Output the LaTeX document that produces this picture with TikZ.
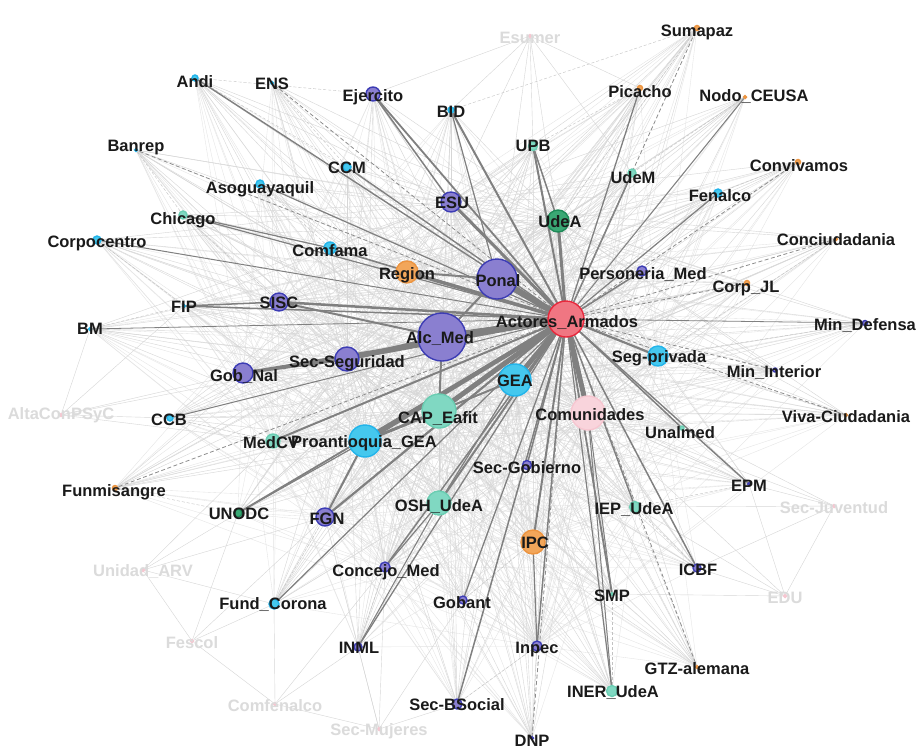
\documentclass[tikz,border=0pt]{standalone}
\usepackage{fontspec}
\setmainfont{Liberation Sans}
\definecolor{violeta}{HTML}{8A7FD0}
\definecolor{violetaborde}{HTML}{3C3CB4}
\definecolor{rojo}{HTML}{F07682}
\definecolor{rojoborde}{HTML}{E8283C}
\definecolor{celeste}{HTML}{45C8EE}
\definecolor{celesteborde}{HTML}{22B4EA}
\definecolor{menta}{HTML}{80D8C2}
\definecolor{mentaborde}{HTML}{6ACDB2}
\definecolor{verde}{HTML}{3AA874}
\definecolor{verdeborde}{HTML}{1E8A58}
\definecolor{naranja}{HTML}{F2A65A}
\definecolor{naranjaborde}{HTML}{EC9440}
\definecolor{rosa}{HTML}{F9D4DC}
\definecolor{rosaborde}{HTML}{F6C6D0}
\definecolor{tinta}{HTML}{1A1A1A}
\pgfdeclarelayer{web}
\pgfsetlayers{web,main}
\begin{document}
\begin{tikzpicture}[x=1pt, y=-1pt,
    dot/.style={circle, inner sep=0pt, fill=#1, draw=#1borde, line width=1.4pt},
    tag/.style={font=\bfseries\fontsize{16.5}{18}\selectfont, text=tinta, inner sep=0pt},
    ghost/.style={tag, text=black!14},
    thread/.style={draw=black!16, line width=0.4pt},
    mesh/.style={draw=black!11, line width=0.35pt},
    rim/.style={draw=black!24, line width=0.4pt, dash pattern=on 3pt off 2pt},
    link/.style={draw=black!50, line cap=round},
    dashlink/.style={draw=black!45, line width=0.8pt, dash pattern=on 4pt off 2.5pt}]
  \useasboundingbox (0,0) rectangle (921,750);
  \foreach \n/\p/\s/\c in {aa/{566,319}/36/rojo, pona/{497,279}/40/violeta,
      alc/{442,337}/48/violeta, secseg/{347,359}/24/violeta,
      gobnal/{243,373}/20/violeta, sisc/{279,302}/18/violeta,
      esu/{451,202}/20/violeta, ejer/{373,94}/14/violeta,
      bid/{451,110}/6/celeste, udea/{558,221}/22/verde, upb/{533,146}/9/menta,
      region/{407,272}/22/naranja, comfama/{330,248}/12/celeste,
      gea/{515,380}/32/celeste, cap/{439,411}/34/menta,
      proant/{365,441}/32/celeste, medcv/{273,441}/14/menta,
      comun/{588,413}/34/rosa, segpriv/{658,356}/20/celeste,
      personeria/{642,271}/10/violeta, secgob/{527,465}/9/violeta,
      osh/{439,503}/24/menta, fgn/{325,517}/18/violeta,
      ipc/{533,542}/24/naranja, iep/{635,507}/11/menta,
      unalmed/{682,428}/4/menta, epm/{749,484}/3/violeta,
      icbf/{697,568}/8/violeta, smp/{612,594}/3/menta,
      concejo/{385,567}/10/violeta, gobant/{463,600}/8/violeta,
      inml/{358,647}/8/violeta, inpec/{537,646}/10/violeta,
      iner/{612,691}/11/menta, secbs/{457,704}/10/violeta,
      dnp/{532,738}/3/violeta, gtz/{697,667}/3/naranja,
      fundcor/{274,604}/10/celeste, unodc/{238,513}/8/verde,
      funmi/{115,488}/5/naranja, ccb/{170,418}/6/celeste,
      bm/{90,329}/3/celeste, fip/{184,306}/3/celeste,
      corpoc/{97,240}/8/celeste, chicago/{183,215}/8/menta,
      asog/{260,184}/8/celeste, banrep/{136,150}/3/celeste,
      andi/{195,78}/6/celeste, ens/{272,83}/3/celeste,
      ccm/{347,167}/8/celeste, sumapaz/{697,28}/5/naranja,
      picacho/{640,88}/5/naranja, nodo/{745,97}/3/naranja,
      udem/{632,173}/8/menta, fenalco/{718,193}/8/celeste,
      conviv/{798,162}/5/naranja, conciu/{836,239}/3/naranja,
      corpjl/{747,283}/5/naranja, mindef/{865,323}/5/violeta,
      minint/{775,370}/4/violeta, viva/{846,415}/3/naranja,
      esumer/{530,36}/3/rosa, alta/{61,415}/3/rosa, secjuv/{834,506}/3/rosa,
      unarv/{143,570}/3/rosa, edu/{785,596}/3/rosa, fescol/{192,641}/3/rosa,
      comfen/{275,704}/3/rosa, secmuj/{379,729}/3/rosa}
    \node[dot=\c, minimum size=\s] (\n) at (\p) {};
  \foreach \n/\p/\t in {aa/{567,323}/Actores\_Armados, pona/{498,281}/Ponal,
      alc/{440,339}/Alc\_Med, secseg/{347,363}/Sec-Seguridad,
      gobnal/{244,377}/Gob\_Nal, sisc/{279,303}/SISC, esu/{452,203}/ESU,
      ejer/{373,97}/Ejercito, bid/{451,112}/BID, udea/{560,222}/UdeA,
      upb/{533,146}/UPB, region/{407,275}/Region, comfama/{330,251}/Comfama,
      gea/{515,381}/GEA, cap/{438,419}/CAP\_Eafit,
      medcv/{271,443}/MedCV, proant/{364,443}/Proantioquia\_GEA,
      comun/{590,415}/Comunidades, segpriv/{659,358}/Seg-privada,
      personeria/{643,275}/Personeria\_Med, secgob/{527,468}/Sec-Gobierno,
      osh/{439,507}/OSH\_UdeA, fgn/{327,519}/FGN, ipc/{535,543}/IPC,
      iep/{634,510}/IEP\_UdeA, unalmed/{680,433}/Unalmed, epm/{749,486}/EPM,
      icbf/{698,570}/ICBF, smp/{612,596}/SMP, concejo/{386,572}/Concejo\_Med,
      gobant/{462,603}/Gobant, inml/{359,648}/INML, inpec/{537,650}/Inpec,
      iner/{613,693}/INER\_UdeA, secbs/{457,705}/Sec-BSocial, dnp/{532,741}/DNP,
      gtz/{697,669}/GTZ-alemana, fundcor/{273,605}/Fund\_Corona,
      unodc/{239,514}/UNODC, funmi/{114,492}/Funmisangre, ccb/{169,420}/CCB,
      bm/{90,329}/BM, fip/{184,307}/FIP, corpoc/{97,243}/Corpocentro,
      chicago/{183,220}/Chicago, asog/{260,189}/Asoguayaquil,
      banrep/{136,148}/Banrep, andi/{195,82}/Andi, ens/{272,84}/ENS,
      ccm/{347,168}/CCM, sumapaz/{697,32}/Sumapaz, picacho/{640,92}/Picacho,
      nodo/{754,97}/Nodo\_CEUSA, udem/{633,178}/UdeM, fenalco/{720,196}/Fenalco,
      conviv/{799,166}/Convivamos, conciu/{836,240}/Conciudadania,
      corpjl/{746,288}/Corp\_JL, mindef/{865,326}/Min\_Defensa,
      minint/{774,373}/Min\_Interior, viva/{846,417}/Viva-Ciudadania}
    \node[tag] (\n-t) at (\p) {\t};
  \foreach \n/\p/\t in {esumer/{530,38}/Esumer, alta/{61,415}/AltaConPSyC,
      secjuv/{834,508}/Sec-Juventud, unarv/{143,572}/Unidad\_ARV,
      edu/{785,598}/EDU, fescol/{192,643}/Fescol, comfen/{275,706}/Comfenalco,
      secmuj/{379,731}/Sec-Mujeres}
    \node[ghost] (\n-t) at (\p) {\t};
  \begin{pgfonlayer}{web}
    \fill[white] (0,0) rectangle (921,750);
    \foreach \a in {ejer,bid,upb,comfama,personeria,secgob,iep,unalmed,epm,
        icbf,smp,gobant,inml,iner,secbs,dnp,gtz,fundcor,unodc,funmi,ccb,bm,
        fip,corpoc,chicago,asog,banrep,andi,ens,ccm,sumapaz,picacho,nodo,udem,
        fenalco,conviv,conciu,corpjl,mindef,minint,viva}
      \foreach \b in {region,sisc,gobnal,osh,ipc,segpriv,fgn,medcv,concejo,inpec}
        \draw[mesh] (\a) -- (\b);
    \foreach \a in {ejer,bid,upb,region,comfama,sisc,gobnal,medcv,segpriv,
        personeria,secgob,osh,fgn,ipc,iep,unalmed,epm,icbf,smp,concejo,gobant,
        inml,inpec,iner,secbs,dnp,gtz,fundcor,unodc,funmi,ccb,bm,fip,corpoc,
        chicago,asog,banrep,andi,ens,ccm,sumapaz,picacho,nodo,udem,fenalco,
        conviv,conciu,corpjl,mindef,minint,viva}
      \foreach \b in {pona,alc,secseg,gea,cap,proant,comun,udea,esu}
        \draw[thread] (\a) -- (\b);
    \foreach \a/\b in {esumer/bid,esumer/udea,esumer/upb,esumer/pona,
        esumer/esu,esumer/picacho,esumer/ejer,esumer/udem,alta/ccb,alta/gobnal,
        alta/medcv,alta/fip,alta/bm,alta/secseg,secjuv/iep,secjuv/epm,
        secjuv/icbf,secjuv/comun,secjuv/edu,secjuv/unalmed,unarv/unodc,
        unarv/fescol,unarv/fundcor,unarv/medcv,unarv/fgn,edu/icbf,edu/smp,
        edu/iep,edu/epm,edu/comun,fescol/fundcor,fescol/unodc,fescol/comfen,
        fescol/fgn,comfen/fundcor,comfen/inml,comfen/secmuj,comfen/concejo,
        secmuj/inml,secmuj/secbs,secmuj/concejo,secmuj/gobant,secmuj/fgn}
      \draw[thread] (\a) -- (\b);
    \foreach \a/\b in {sumapaz/bid,sumapaz/udea,picacho/upb,andi/ejer,
        andi/ccm,nodo/udem,conviv/fenalco,conciu/segpriv,mindef/segpriv,
        viva/segpriv,epm/iep,gtz/iep,dnp/inpec,banrep/chicago,corpoc/fip,
        bm/fip,ccb/medcv,funmi/unodc,fundcor/fgn,inml/concejo,iner/smp,
        icbf/iep,ens/ccm,asog/comfama,chicago/sisc,gobant/ipc,secbs/inpec}
      \draw[rim] (\a) -- (\b);
    \foreach \a/\b/\w in {secseg/alc/4, secseg/gobnal/3, proant/cap/3,
        proant/fgn/2, pona/region/2, alc/pona/2, alc/cap/2, gea/cap/2,
        alc/sisc/2, upb/udea/1.5, ejer/esu/1.5, bid/pona/1.2, osh/concejo/1.2,
        osh/inml/1, gea/osh/1.2, proant/unodc/1.2, ipc/inpec/1.2,
        comun/smp/1, comun/iner/1, fip/sisc/1.5, chicago/comfama/1.2}
      \draw[link, line width=\w pt] (\a) -- (\b);
    \foreach \n/\w in {pona/6, alc/6.5, gea/5, cap/5, proant/4.5, comun/5,
        esu/3, region/3.5, udea/3, sisc/2.5, secseg/3, gobnal/2.5, medcv/2,
        unodc/1.8, fgn/2.2, osh/2, concejo/1.5, inml/1.3, fundcor/1.2, ipc/2,
        secgob/1.5, gobant/1.3, inpec/1.5, secbs/1.5, smp/1.8, iner/1.2,
        iep/1.5, icbf/1.5, epm/1.4, unalmed/1.5, segpriv/2.2, personeria/1.5,
        udem/1.6, picacho/1.3, upb/2, bid/2, ejer/1.8, ccm/1.4, andi/1.4,
        comfama/1.6, chicago/1.2, asog/1.2, corpoc/1, fip/1.5, bm/0.8,
        ccb/1, nodo/1, fenalco/1.2, mindef/0.8}
      \draw[link, line width=\w pt] (aa) -- (\n);
    \foreach \n in {banrep,funmi,sumapaz,conviv,corpjl,minint,viva,gtz,dnp,
        conciu,ens}
      \draw[dashlink] (aa) -- (\n);
  \end{pgfonlayer}
\end{tikzpicture}
\end{document}
